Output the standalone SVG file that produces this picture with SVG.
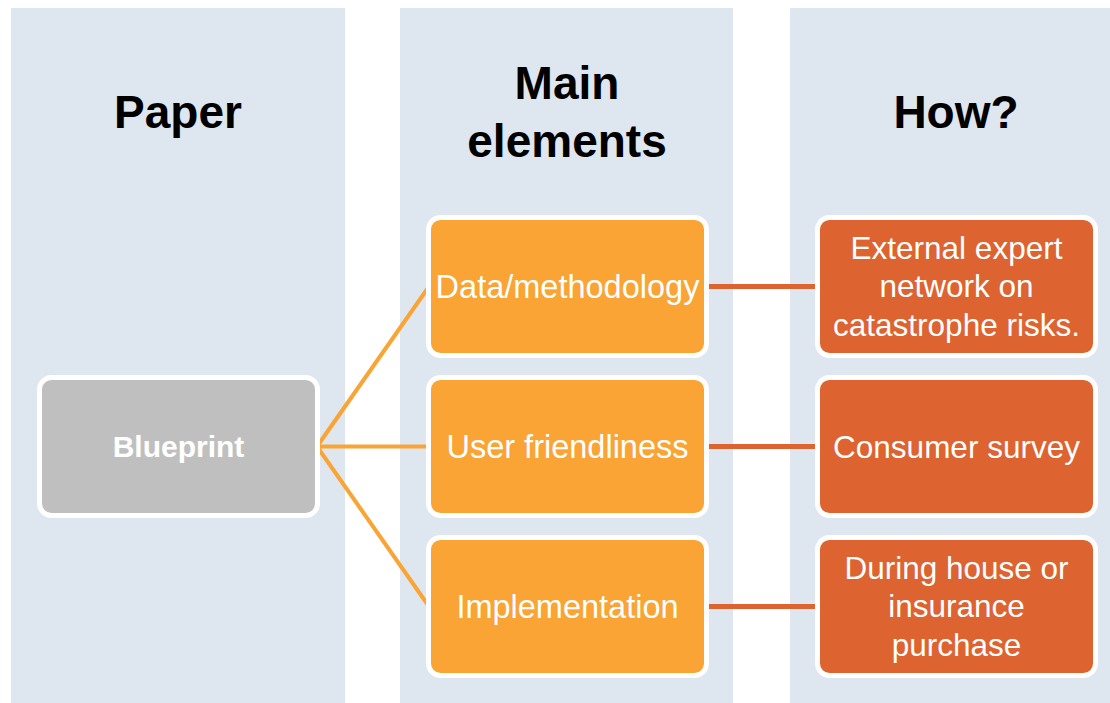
<svg xmlns="http://www.w3.org/2000/svg" width="1110" height="703" viewBox="0 0 1110 703">
<style>
.col{fill:#DEE6EF}
.hdr{font-family:"Liberation Sans",Arial,sans-serif;font-weight:bold;font-size:46px;fill:#000;text-anchor:middle}
.box{stroke:#fff;stroke-width:5}
.gray{fill:#BFBFBF}
.orange{fill:#F9A435}
.red{fill:#DD6330}
.lbl{font-family:"Liberation Sans",Arial,sans-serif;font-size:31.5px;fill:#fff;text-anchor:middle}
.big{font-size:32.5px}
.bold{font-weight:bold;font-size:30px}
.c1{stroke:#F9A435;stroke-width:4;fill:none}
.c2{stroke:#DD6330;stroke-width:5;fill:none}
</style>
<rect width="1110" height="703" fill="#fff"/>
<g id="columns">
<rect class="col" x="11" y="8" width="334" height="695"/>
<rect class="col" x="400" y="8" width="333" height="695"/>
<rect class="col" x="790" y="8" width="320" height="695"/>
</g>
<g id="headers">
<text class="hdr" x="178" y="128">Paper</text>
<text class="hdr" x="567" y="99">Main</text>
<text class="hdr" x="567" y="157">elements</text>
<text class="hdr" x="956" y="128">How?</text>
</g>
<g id="connectors">
<line class="c1" x1="317" y1="446.5" x2="429" y2="286.5"/>
<line class="c1" x1="317" y1="446.5" x2="429" y2="446.5"/>
<line class="c1" x1="317" y1="446.5" x2="429" y2="606.5"/>
<line class="c2" x1="706" y1="286.5" x2="818" y2="286.5"/>
<line class="c2" x1="706" y1="446.5" x2="818" y2="446.5"/>
<line class="c2" x1="706" y1="606.5" x2="818" y2="606.5"/>
</g>
<g id="blueprint">
<rect class="box gray" x="39.5" y="377.5" width="278" height="138" rx="12"/>
<text class="lbl bold" x="178.5" y="457">Blueprint</text>
</g>
<g id="data-methodology">
<rect class="box orange" x="428.5" y="217.5" width="278" height="138" rx="12"/>
<text class="lbl big" x="567.5" y="297.5">Data/methodology</text>
</g>
<g id="user-friendliness">
<rect class="box orange" x="428.5" y="377.5" width="278" height="138" rx="12"/>
<text class="lbl big" x="567.5" y="457.5">User friendliness</text>
</g>
<g id="implementation">
<rect class="box orange" x="428.5" y="537.5" width="278" height="138" rx="12"/>
<text class="lbl big" x="567.5" y="617.5">Implementation</text>
</g>
<g id="expert-network">
<rect class="box red" x="817.5" y="217.5" width="278" height="138" rx="12"/>
<text class="lbl" x="956.5" y="258.5">External expert</text>
<text class="lbl" x="956.5" y="297">network on</text>
<text class="lbl" x="956.5" y="335.5">catastrophe risks.</text>
</g>
<g id="consumer-survey">
<rect class="box red" x="817.5" y="377.5" width="278" height="138" rx="12"/>
<text class="lbl" x="956.5" y="457.5">Consumer survey</text>
</g>
<g id="purchase">
<rect class="box red" x="817.5" y="537.5" width="278" height="138" rx="12"/>
<text class="lbl" x="956.5" y="578.5">During house or</text>
<text class="lbl" x="956.5" y="617">insurance</text>
<text class="lbl" x="956.5" y="655.5">purchase</text>
</g>
</svg>
